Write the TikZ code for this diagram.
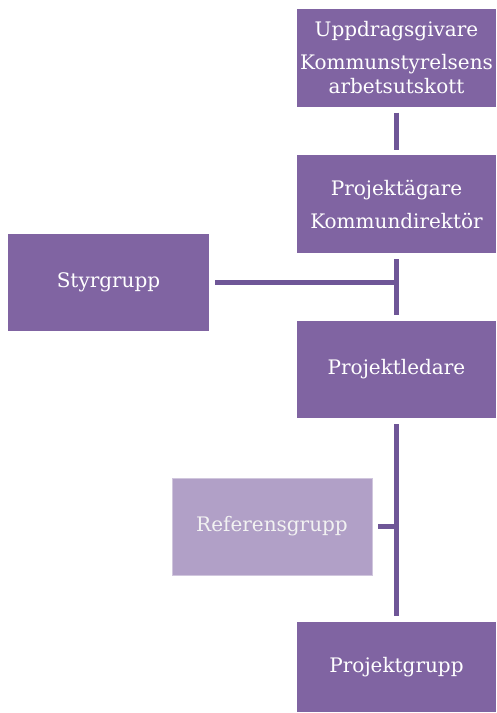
\documentclass[tikz,border=0pt]{standalone}
\usepackage{fontspec}
\setmainfont{DejaVu Serif}
\usepackage{xcolor}
\usepackage{tikz}
\usetikzlibrary{positioning, calc}
\definecolor{orgpurple}{HTML}{8064A2}
\definecolor{linepurple}{HTML}{6F5697}
\definecolor{lightpurple}{HTML}{B1A0C7}

\begin{document}
\begin{tikzpicture}[
    x=1pt, y=-1pt,
    orgbox/.style={rectangle, fill=orgpurple, text=white, minimum width=199pt, minimum height=98pt, inner sep=0pt, align=center, font=\fontsize{20}{24}\selectfont},
    refbox/.style={orgbox, fill=lightpurple, draw=lightpurple!60, text=white!95!black, minimum width=200pt, minimum height=97pt},
    link/.style={draw=linepurple, line width=5.5pt}
]
    \useasboundingbox (0,0) rectangle (496,713);

    % Main column
    \node[orgbox] (uppdrag) at (396.5,57.5) {Uppdragsgivare\\[9pt]Kommunstyrelsens\\arbetsutskott};
    \node[orgbox] (agare) at (396.5,204) {Projektägare\\[9pt]Kommundirektör};
    \node[orgbox, minimum height=97pt] (ledare) at (396.5,369.5) {Projektledare};
    \node[orgbox, minimum height=90pt] (grupp) at (396.5,667) {Projektgrupp};

    % Side groups
    \node[orgbox, minimum width=201pt, minimum height=97pt] (styr) at (108.5,282.5) {Styrgrupp};
    \node[refbox] (referens) at (272,526.5) {Referensgrupp};

    % Connectors
    \draw[link, shorten <=6pt, shorten >=5pt] (uppdrag) -- (agare);
    \draw[link, shorten <=6pt, shorten >=6pt] (agare) -- (ledare);
    \draw[link, shorten <=6pt, shorten >=6pt] (ledare) -- (grupp);
    \draw[link, shorten <=6pt, shorten >=-2.75pt] (styr.east) -- (styr.east -| agare.south);
    \draw[link, shorten <=6pt, shorten >=-2.75pt] (referens.east) -- (referens.east -| ledare.south);

\end{tikzpicture}
\end{document}
